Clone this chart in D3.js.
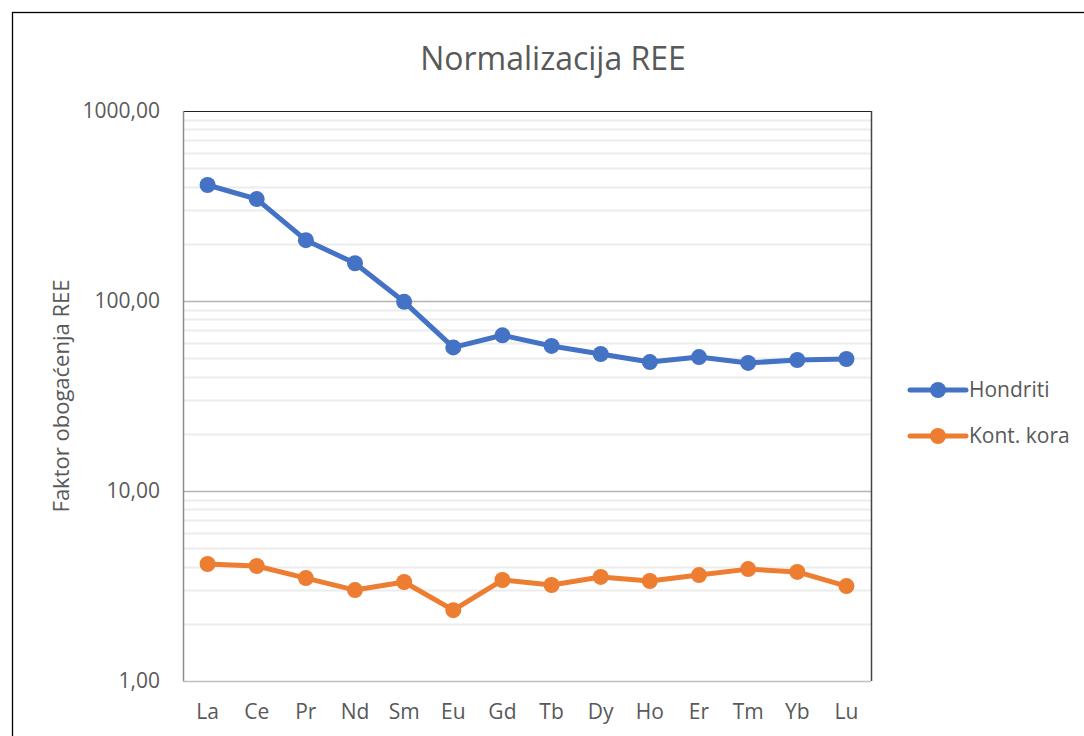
<!DOCTYPE html>
<html>
<head>
<meta charset="utf-8">
<script src="https://cdn.jsdelivr.net/npm/d3@7"></script>
<style>
  body { margin: 0; background: #fff; }
  text { font-family: "Open Sans", sans-serif; fill: #595959; }
</style>
</head>
<body>
<div id="chart"></div>
<script>
// data
var elements = ["La", "Ce", "Pr", "Nd", "Sm", "Eu", "Gd", "Tb", "Dy", "Ho", "Er", "Tm", "Yb", "Lu"];
var hondriti = [408, 344, 209, 158, 99, 57, 66, 58, 52.6, 47.7, 50.7, 47.2, 48.9, 49.5];
var kontKora = [4.13, 4.03, 3.48, 3.01, 3.32, 2.36, 3.40, 3.20, 3.53, 3.36, 3.61, 3.88, 3.75, 3.16];
var yTicks = [1, 10, 100, 1000];
var seriesNames = ["Hondriti", "Kont. kora"];
var colors = ["#4472c4", "#ed7d31"];

var W = 1084, H = 736;
var svg = d3.select("#chart").append("svg").attr("width", W).attr("height", H);

// outer chart frame
svg.append("rect")
  .attr("x", 12.5).attr("y", 12.5).attr("width", 1200).attr("height", 900)
  .attr("fill", "none").attr("stroke", "#000").attr("stroke-width", 1.3);

var pLeft = 183, pRight = 871, pTop = 111, pBottom = 681;

var x = d3.scaleBand().domain(elements).range([pLeft, pRight]);
var y = d3.scaleLog().domain([1, 1000]).range([pBottom, pTop]);

// minor gridlines
var minor = [];
[1, 10, 100].forEach(function (d) {
  for (var k = 2; k <= 9; k++) minor.push(d * k);
});
svg.append("g").selectAll("line").data(minor).enter().append("line")
  .attr("x1", pLeft).attr("x2", pRight)
  .attr("y1", function (d) { return Math.round(y(d)) + 0.5; })
  .attr("y2", function (d) { return Math.round(y(d)) + 0.5; })
  .attr("stroke", "#ececec").attr("stroke-width", 2);

// major gridlines
svg.append("g").selectAll("line").data([10, 100]).enter().append("line")
  .attr("x1", pLeft).attr("x2", pRight)
  .attr("y1", function (d) { return Math.round(y(d)) + 0.5; })
  .attr("y2", function (d) { return Math.round(y(d)) + 0.5; })
  .attr("stroke", "#b3b3b3").attr("stroke-width", 1.5);

// plot area border: top/right dark, left/bottom axis gray
svg.append("line").attr("x1", pLeft).attr("x2", pRight).attr("y1", pTop + 0.5).attr("y2", pTop + 0.5)
  .attr("stroke", "#222").attr("stroke-width", 1.2);
svg.append("line").attr("x1", pRight + 0.5).attr("x2", pRight + 0.5).attr("y1", pTop).attr("y2", pBottom)
  .attr("stroke", "#444").attr("stroke-width", 1.5);
svg.append("line").attr("x1", pLeft + 0.5).attr("x2", pLeft + 0.5).attr("y1", pTop).attr("y2", pBottom)
  .attr("stroke", "#8c8c8c").attr("stroke-width", 1.5);
svg.append("line").attr("x1", pLeft).attr("x2", pRight).attr("y1", pBottom + 0.5).attr("y2", pBottom + 0.5)
  .attr("stroke", "#bfbfbf").attr("stroke-width", 1.5);

// y tick labels
svg.append("g").selectAll("text").data(yTicks).enter().append("text")
  .attr("x", 160).attr("y", function (d) { return y(d); })
  .attr("dy", "0.35em")
  .attr("text-anchor", "end")
  .style("font-size", "21px")
  .text(function (d) { return d3.format(".2f")(d).replace(".", ","); });

// x tick labels
svg.append("g").selectAll("text").data(elements).enter().append("text")
  .attr("x", function (d) { return x(d) + x.bandwidth() / 2; })
  .attr("y", 719)
  .attr("text-anchor", "middle")
  .style("font-size", "21px")
  .text(function (d) { return d; });

// title
svg.append("text")
  .attr("x", 553).attr("y", 70)
  .attr("text-anchor", "middle")
  .style("font-size", "32px")
  .text("Normalizacija REE");

// y axis title
svg.append("text")
  .attr("transform", "translate(69," + ((pTop + pBottom) / 2) + ") rotate(-90)")
  .attr("text-anchor", "middle")
  .style("font-size", "22px")
  .text("Faktor obogaćenja REE");

// series
var line = d3.line()
  .x(function (d, i) { return x(elements[i]) + x.bandwidth() / 2; })
  .y(function (d) { return y(d); });

[hondriti, kontKora].forEach(function (vals, s) {
  svg.append("path").datum(vals)
    .attr("d", line)
    .attr("fill", "none")
    .attr("stroke", colors[s])
    .attr("stroke-width", 5)
    .attr("stroke-linejoin", "round");
  svg.append("g").selectAll("circle").data(vals).enter().append("circle")
    .attr("cx", function (d, i) { return x(elements[i]) + x.bandwidth() / 2; })
    .attr("cy", function (d) { return y(d); })
    .attr("r", 8)
    .attr("fill", colors[s]);
});

// legend
var legend = svg.append("g").selectAll("g").data(seriesNames).enter().append("g")
  .attr("transform", function (d, i) { return "translate(910," + (390 + i * 46) + ")"; });
legend.append("line")
  .attr("x1", 0).attr("x2", 56)
  .attr("stroke", function (d, i) { return colors[i]; })
  .attr("stroke-width", 5).attr("stroke-linecap", "round");
legend.append("circle")
  .attr("cx", 28).attr("r", 8)
  .attr("fill", function (d, i) { return colors[i]; });
legend.append("text")
  .attr("x", 59).attr("dy", "0.35em")
  .style("font-size", "21px")
  .text(function (d) { return d; });
</script>
</body>
</html>
